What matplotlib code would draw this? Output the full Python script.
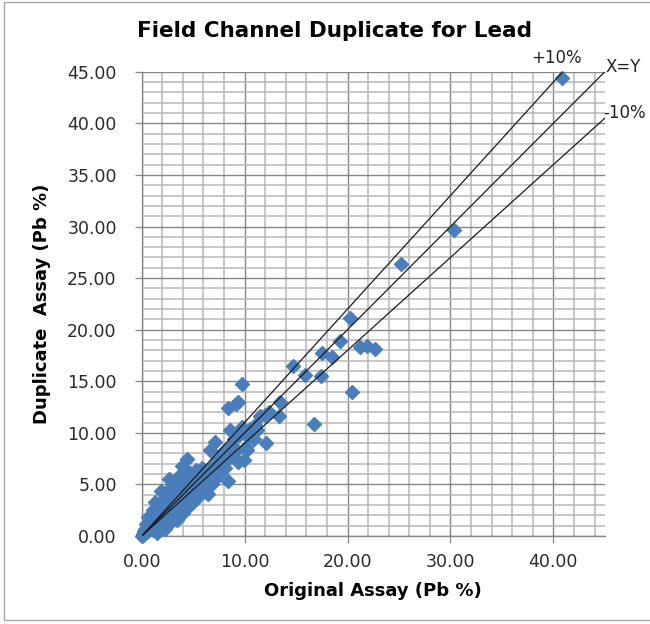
import matplotlib
matplotlib.use('Agg')
import matplotlib.pyplot as plt
from matplotlib.ticker import MultipleLocator, FormatStrFormatter
from matplotlib.patches import Rectangle

# original assay vs duplicate assay (Pb %)
original = [0.05, 0.1, 0.15, 0.2, 0.25, 0.3, 0.35, 0.4, 0.45, 0.5, 0.55, 0.6, 0.65, 0.7, 0.8,
            0.85, 0.9, 1.0, 1.05, 1.1, 1.2, 1.25, 1.3, 1.35, 1.45, 1.5, 1.55, 1.6, 1.7, 1.75,
            1.8, 1.9, 1.95, 2.0, 2.1, 2.15, 2.25, 2.3, 2.4, 2.5, 2.6, 2.7, 2.75, 2.85, 2.9,
            3.0, 3.1, 3.2, 3.3, 3.4, 3.45, 3.55, 3.6, 3.7, 3.8, 3.9, 4.0, 4.05, 4.15, 4.25,
            4.4, 4.45, 4.5, 4.6, 4.7, 4.8, 4.95, 5.0, 5.1, 5.25, 5.3, 5.4, 5.5, 5.6, 5.75,
            5.9, 6.0, 6.15, 6.3, 6.4, 6.5, 6.6, 6.7, 6.8, 7.0, 7.05, 7.1, 7.3, 7.4, 7.6,
            7.8, 8.0, 8.1, 8.4, 8.5, 8.6, 8.8, 9.0, 9.2, 9.4, 9.5, 9.7, 9.9, 9.9, 10.1,
            10.2, 10.3, 10.5, 10.7, 10.9, 11.0, 11.2, 11.5, 12.0, 12.1, 12.4, 13.3, 13.4, 8.4,
            9.2, 9.4, 9.7, 16.7, 14.7, 15.9, 17.4, 17.5, 18.5, 19.3, 20.4, 20.2, 21.2, 21.9,
            22.7, 25.2, 30.3, 40.8]
duplicate = [0.05, 0.2, 0.1, 0.45, 0.25, 0.7, 0.3, 0.5, 1.2, 0.35, 0.8, 1.8, 0.55, 1.0, 0.7,
             1.5, 0.95, 1.25, 0.6, 2.5, 1.4, 0.9, 3.3, 1.8, 1.2, 0.3, 2.2, 1.6, 3.0, 1.0,
             2.1, 4.4, 1.7, 2.6, 1.3, 3.6, 2.3, 0.7, 2.9, 1.9, 4.5, 5.5, 2.6, 3.3, 1.5,
             4.0, 2.4, 3.0, 5.0, 1.6, 3.6, 2.8, 5.8, 4.4, 3.3, 6.8, 2.2, 4.0, 5.3, 3.5,
             7.5, 4.6, 2.8, 3.9, 6.1, 4.9, 3.3, 5.5, 4.3, 6.4, 3.6, 5.0, 4.1, 5.8, 4.6,
             6.6, 5.3, 4.3, 6.1, 4.1, 5.4, 8.3, 6.6, 5.0, 5.4, 6.9, 9.1, 7.5, 6.2, 6.1,
             7.0, 8.2, 6.6, 5.3, 7.6, 10.3, 8.8, 9.4, 8.2, 7.2, 9.8, 10.6, 7.4, 10.0, 8.6,
             8.3, 9.6, 10.4, 10.0, 9.4, 10.8, 10.3, 11.6, 11.7, 9.0, 12.0, 11.6, 13.0, 12.4,
             12.8, 13.0, 14.7, 10.9, 16.5, 15.6, 15.5, 17.7, 17.4, 18.9, 14.0, 21.1, 18.3, 18.4,
             18.1, 26.4, 29.7, 44.4]

# reference lines
line_x = [0, 45]
line_names = ['+10%', 'X=Y', '-10%']
line_factors = [1.1, 1.0, 0.9]

fig = plt.figure(figsize=(6.5, 6.24), dpi=100)
ax = fig.add_axes([0.218, 0.141, 0.7125, 0.744])

# red series sitting at the origin
ax.plot([0], [0], 's', color='#C0504D', ms=6, clip_on=False, zorder=3)
ax.plot(original, duplicate, 'D', color='#4A7EBB', ms=6.8, mec='#4A7EBB', clip_on=False, zorder=4)

for f in line_factors:
    ax.plot(line_x, [v * f for v in line_x], color='#1a1a1a', lw=0.9, zorder=5)

ax.set_xlim(0, 45)
ax.set_ylim(0, 45)

ax.xaxis.set_major_locator(MultipleLocator(10))
ax.xaxis.set_minor_locator(MultipleLocator(2))
ax.yaxis.set_major_locator(MultipleLocator(5))
ax.yaxis.set_minor_locator(MultipleLocator(1))
ax.xaxis.set_major_formatter(FormatStrFormatter('%.2f'))
ax.yaxis.set_major_formatter(FormatStrFormatter('%.2f'))

ax.grid(which='major', color='#868686', lw=1.0, zorder=0)
ax.grid(which='minor', color='#b8b8b8', lw=1.1, zorder=0)
ax.set_axisbelow(True)

ax.tick_params(which='major', direction='out', length=5, width=0.9, color='#868686',
               labelsize=12.5, labelcolor='#2a2a2a')
ax.tick_params(axis='x', which='major', pad=7)
ax.tick_params(axis='y', which='major', pad=13)
ax.tick_params(which='minor', length=0)

for s in ['right', 'top']:
    ax.spines[s].set_visible(False)
for s in ['left', 'bottom']:
    ax.spines[s].set_color('#868686')
    ax.spines[s].set_linewidth(1.0)

ax.set_xlabel('Original Assay (Pb %)', fontsize=13, fontweight='bold', labelpad=8)
ax.set_ylabel('Duplicate  Assay (Pb %)', fontsize=13, fontweight='bold', labelpad=12)

fig.text(0.515, 0.951, 'Field Channel Duplicate for Lead', fontsize=15.5, fontweight='bold',
         ha='center', va='center')

# line labels
fig.text(557 / 650, 1 - 58 / 624, line_names[0], fontsize=12, ha='center', va='center', color='#222222')
fig.text(623 / 650, 1 - 67 / 624, line_names[1], fontsize=12, ha='center', va='center', color='#222222')
fig.text(625 / 650, 1 - 113 / 624, line_names[2], fontsize=12, ha='center', va='center', color='#222222')

# chart frame
fig.patches.append(Rectangle((4 / 650, 4 / 624), 1.0, 1 - 6 / 624, transform=fig.transFigure,
                             fill=False, edgecolor='#a6a6a6', lw=1.0))

fig.savefig('out.png', dpi=100)
